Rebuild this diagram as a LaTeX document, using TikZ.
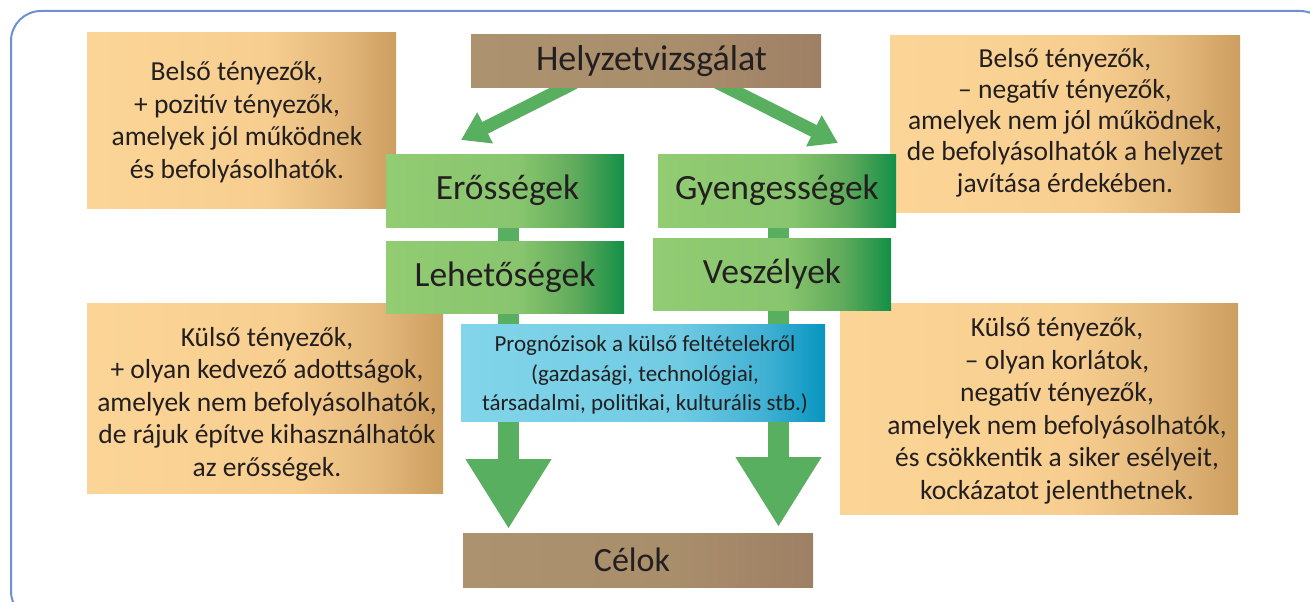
\documentclass[tikz,border=0pt]{standalone}
\usepackage{fontspec}
\setmainfont{Carlito}
\usetikzlibrary{arrows.meta}
\definecolor{frameblue}{HTML}{6E8FD2}
\definecolor{txtc}{HTML}{231F20}
\definecolor{arrowgreen}{HTML}{57AF5F}
\definecolor{or1}{HTML}{FBD597}
\definecolor{or2}{HTML}{F7CE90}
\definecolor{or3}{HTML}{E4B87B}
\definecolor{or4}{HTML}{CC9F60}
\definecolor{gr1}{HTML}{92CC73}
\definecolor{gr2}{HTML}{88C56E}
\definecolor{gr3}{HTML}{5FAA5B}
\definecolor{gr4}{HTML}{138F47}
\definecolor{br1}{HTML}{AC926F}
\definecolor{br2}{HTML}{A98E6C}
\definecolor{br3}{HTML}{9E8064}
\definecolor{cy1}{HTML}{82D5EA}
\definecolor{cy2}{HTML}{70CBE3}
\definecolor{cy3}{HTML}{3FB0D3}
\definecolor{cy4}{HTML}{0795BF}
\pgfdeclarehorizontalshading{orsh}{100bp}{color(0bp)=(or1); color(25bp)=(or1); color(54bp)=(or2); color(66bp)=(or3); color(75bp)=(or4); color(100bp)=(or4)}
\pgfdeclarehorizontalshading{grsh}{100bp}{color(0bp)=(gr1); color(25bp)=(gr1); color(53bp)=(gr2); color(65bp)=(gr3); color(75bp)=(gr4); color(100bp)=(gr4)}
\pgfdeclarehorizontalshading{brsh}{100bp}{color(0bp)=(br1); color(25bp)=(br1); color(55bp)=(br2); color(75bp)=(br3); color(100bp)=(br3)}
\pgfdeclarehorizontalshading{cysh}{100bp}{color(0bp)=(cy1); color(25bp)=(cy1); color(55bp)=(cy2); color(67bp)=(cy3); color(75bp)=(cy4); color(100bp)=(cy4)}
\tikzset{
  obox/.style={shade, shading=orsh, inner sep=0pt},
  gbox/.style={shade, shading=grsh, inner sep=0pt, minimum width=238pt, text=txtc, font=\fontsize{35.5}{40}\selectfont},
  bbox/.style={shade, shading=brsh, inner sep=0pt, minimum width=350pt, text=txtc},
  cbox/.style={shade, shading=cysh, inner sep=0pt, text=txtc},
  otext/.style={text=txtc, align=center, inner sep=0pt, font=\fontsize{27.5}{32.5}\selectfont},
  bigarrow/.style={arrowgreen, line width=21pt, -{Triangle[length=70pt,width=81pt]}},
  diagarrow/.style={arrowgreen, line width=13pt, -{Triangle[length=27pt,width=33pt]}},
}
\begin{document}
\begin{tikzpicture}[x=1pt,y=-1pt]
\useasboundingbox (0,0) rectangle (1310,602);
\begin{scope}
\clip (0,0) rectangle (1310,602);
\draw[frameblue, line width=2pt, rounded corners=30pt] (11,11) rectangle (1330,621);
\end{scope}
% orange boxes
\node[obox, minimum width=309pt, minimum height=175.5pt] (tlbox) at (241.5,120.75) {};
\node[otext] (tltext) at (237,122) {Belső tényezők,\\+ pozitív tényezők,\\amelyek jól működnek\\és befolyásolhatók.};
\node[obox, minimum width=350pt, minimum height=176pt] (trbox) at (1065,124) {};
\node[otext, font=\fontsize{27.5}{31.2}\selectfont] (trtext) at (1065,122.5) {Belső tényezők,\\– negatív tényezők,\\amelyek nem jól működnek,\\de befolyásolhatók a helyzet\\javítása érdekében.};
\node[obox, minimum width=356pt, minimum height=190pt] (blbox) at (265,398) {};
\node[otext] (bltext) at (267,404) {Külső tényezők,\\+ olyan kedvező adottságok,\\amelyek nem befolyásolhatók,\\de rájuk építve kihasználhatók\\az erősségek.};
\node[obox, minimum width=398pt, minimum height=211pt] (brbox) at (1039,408.5) {};
\node[otext] (brtext) at (1057,411) {Külső tényezők,\\– olyan korlátok,\\negatív tényezők,\\amelyek nem befolyásolhatók,\\és csökkentik a siker esélyeit,\\kockázatot jelenthetnek.};
% connector coordinates
\coordinate (ls) at (508.5,200);
\coordinate (lt) at (508.5,529);
\coordinate (rs) at (778.5,200);
\coordinate (rt) at (778.5,527);
\coordinate (dls) at (574.3,82.8);
\coordinate (dlt) at (461,140);
\coordinate (drs) at (717.5,82.5);
\coordinate (drt) at (838,143);
\draw[bigarrow] (ls) -- (lt);
\draw[bigarrow] (rs) -- (rt);
\draw[diagarrow] (dls) -- (dlt);
\draw[diagarrow] (drs) -- (drt);
% main boxes
\node[bbox, minimum height=53pt] (helyzet) at (646,61.5) {};
\node[text=txtc, inner sep=0pt, font=\fontsize{36}{40}\selectfont] (helyzettext) at (651.5,61.5) {Helyzetvizsgálat};
\node[gbox, minimum height=73pt] (ero) at (505,190.5) {};
\node[text=txtc, inner sep=0pt, font=\fontsize{35.5}{40}\selectfont] (erotext) at (507.5,190.5) {Erősségek};
\node[gbox, minimum height=73pt] (gyenge) at (777,190.5) {Gyengességek};
\node[gbox, minimum height=72pt] (lehet) at (505,277) {Lehetőségek};
\node[gbox, minimum height=72pt] (vesz) at (772,274) {Veszélyek};
\node[cbox, minimum width=364pt, minimum height=97pt] (progn) at (643,372.5) {};
\node[text=txtc, align=center, inner sep=0pt, font=\fontsize{23}{29.5}\selectfont] (progntext) at (645,375) {Prognózisok a külső feltételekről\\(gazdasági, technológiai,\\társadalmi, politikai, kulturális stb.)};
\node[bbox, minimum height=54pt] (celok) at (638,560) {};
\node[text=txtc, inner sep=0pt, font=\fontsize{34}{40}\selectfont] (celoktext) at (632,560) {Célok};
\end{tikzpicture}
\end{document}
